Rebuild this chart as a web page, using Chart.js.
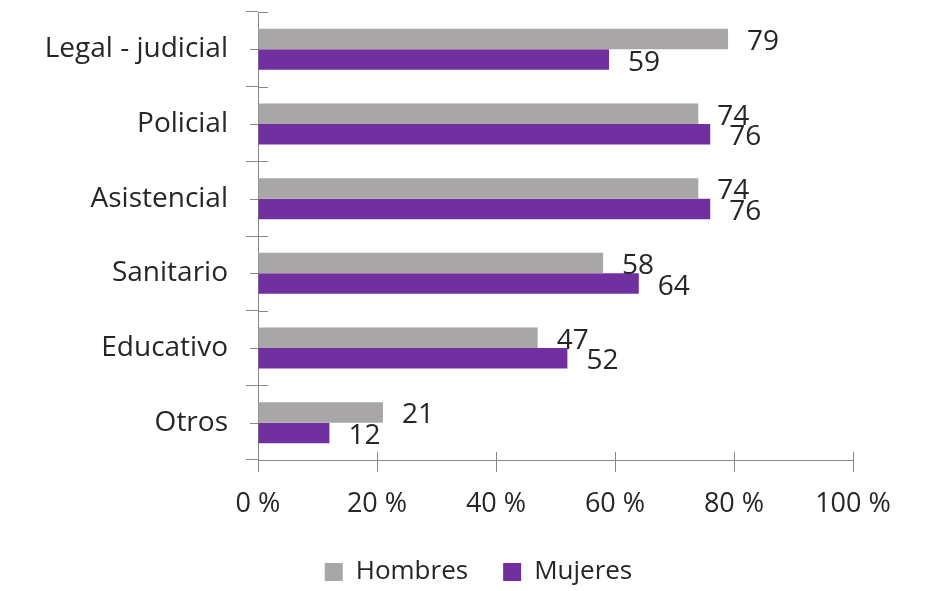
<!DOCTYPE html>
<html><head><meta charset="utf-8">
<script src="https://cdn.jsdelivr.net/npm/chart.js@4"></script>
<style>html,body{margin:0;padding:0;background:#fff}#wrap{width:937px;height:591px}</style>
</head><body><div id="wrap"><canvas id="c" width="937" height="591"></canvas></div>
<script>
const categories = ['Legal - judicial', 'Policial', 'Asistencial', 'Sanitario', 'Educativo', 'Otros'];
const hombres = [79, 74, 74, 58, 47, 21];
const mujeres = [59, 76, 76, 64, 52, 12];
const xTicks = [0, 20, 40, 60, 80, 100];

const FONT = '"Open Sans"';
const AXIS = '#868686';
const TEXT = '#262626';

const legendShift = {
  id: 'legendShift',
  afterLayout(chart) {
    if (chart.legend) { chart.legend.left += 52; chart.legend.right += 52; }
  }
};

const marks = {
  id: 'marks',
  afterDraw(chart) {
    const ctx = chart.ctx, x = chart.scales.x, y = chart.scales.y, a = chart.chartArea;
    ctx.save();
    ctx.strokeStyle = AXIS; ctx.lineWidth = 1;
    ctx.beginPath();
    x.ticks.forEach((t, i) => { const px = Math.round(x.getPixelForTick(i)) + 0.5; ctx.moveTo(px, a.bottom - 8); ctx.lineTo(px, a.bottom); });
    for (let i = 0; i <= categories.length; i++) {
      const py = Math.round(y.getPixelForValue(i - 0.5)) + 0.5;
      ctx.moveTo(a.left, py); ctx.lineTo(a.left + 10, py);
    }
    categories.forEach((c, i) => { const py = Math.round(y.getPixelForValue(i)) + 0.5; ctx.moveTo(a.left - 8, py); ctx.lineTo(a.left, py); });
    ctx.stroke();
    // value labels
    ctx.fillStyle = TEXT; ctx.font = '28px ' + FONT; ctx.textAlign = 'left'; ctx.textBaseline = 'middle';
    chart.data.datasets.forEach((ds, di) => {
      chart.getDatasetMeta(di).data.forEach((el, i) => {
        ctx.fillText(String(ds.data[i]), el.x + 19, el.y + 3);
      });
    });
    ctx.restore();
  }
};

new Chart(document.getElementById('c'), {
  type: 'bar',
  data: {
    labels: categories,
    datasets: [
      { label: 'Hombres', data: hombres, backgroundColor: '#a8a6a6', borderWidth: 0 },
      { label: 'Mujeres', data: mujeres, backgroundColor: '#7030a0', borderWidth: 0 }
    ]
  },
  options: {
    indexAxis: 'y',
    responsive: false,
    animation: false,
    devicePixelRatio: 1,
    layout: { autoPadding: false, padding: { left: 0, right: 84, top: 12, bottom: -4 } },
    categoryPercentage: 0.55,
    barPercentage: 1.0,
    plugins: {
      tooltip: { enabled: false },
      legend: {
        position: 'bottom',
        labels: { boxWidth: 18, boxHeight: 18, padding: 35, color: TEXT, font: { family: FONT, size: 26 } }
      }
    },
    scales: {
      x: {
        min: 0, max: 100,
        afterBuildTicks(scale) { scale.ticks = xTicks.map(v => ({ value: v })); },
        grid: { drawOnChartArea: false, drawTicks: true, tickLength: 12, color: AXIS },
        border: { color: AXIS },
        ticks: { padding: 16, color: TEXT, font: { family: FONT, size: 27 }, callback: v => v + ' %' },
        afterFit(scale) { scale.height = 64; scale.paddingLeft = 0; scale.paddingRight = 0; }
      },
      y: {
        grid: { drawOnChartArea: false, drawTicks: true, tickLength: 12, offset: true, color: AXIS },
        border: { color: AXIS },
        ticks: { padding: 18, color: TEXT, font: { family: FONT, size: 28 } },
        afterFit(scale) { scale.width = 258; scale.paddingTop = 0; scale.paddingBottom = 0; }
      }
    }
  },
  plugins: [legendShift, marks]
});
</script>
</body></html>
